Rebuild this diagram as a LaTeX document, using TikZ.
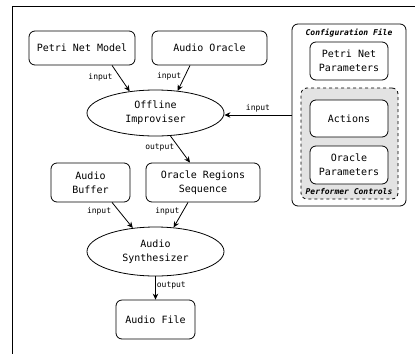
\documentclass[tikz,border=0pt]{standalone}
\usepackage{fontspec}
\setmonofont{DejaVu Sans Mono}
\usetikzlibrary{shapes.geometric,arrows.meta,calc}
\begin{document}
\begin{tikzpicture}[x=1pt,y=-1pt,
  box/.style={draw,line width=0.8pt,rounded corners=6pt,align=center,inner sep=0pt,
    font=\ttfamily\fontsize{10}{14}\selectfont},
  ell/.style={draw,line width=0.8pt,ellipse,inner sep=0pt,align=center,
    font=\ttfamily\fontsize{10}{14}\selectfont},
  conn/.style={line width=0.8pt,-{Stealth[length=6pt,width=5.5pt]}},
  lbl/.style={font=\ttfamily\fontsize{8}{9}\selectfont,inner sep=1pt},
  ttl/.style={font=\ttfamily\bfseries\itshape\fontsize{8}{9}\selectfont,inner sep=0pt}]
\useasboundingbox (0,0) rectangle (415,354);
\draw[line width=0.8pt] (415,6) -- (12,6) -- (12,354);

% configuration file group
\node[box,minimum width=114pt,minimum height=182pt] (cfg) at (349,115) {};
\node[ttl] (cfgt) at (349,33) {Configuration File};
\node[box,minimum width=78pt,minimum height=38pt] (pnp) at (349,61) {Petri Net\\Parameters};
\node[draw,line width=0.8pt,dashed,rounded corners=6pt,fill=black!11,
  minimum width=97pt,minimum height=111pt,inner sep=0pt] (perf) at (349.5,143.5) {};
\node[box,fill=white,minimum width=78pt,minimum height=37pt] (act) at (349,118.5) {Actions};
\node[box,fill=white,minimum width=78pt,minimum height=38pt] (orp) at (349,165) {Oracle\\Parameters};
\node[ttl] (perft) at (349,192) {Performer Controls};

% main flow
\node[box,minimum width=106pt,minimum height=34pt] (pnm) at (82,48) {Petri Net Model};
\node[box,minimum width=115pt,minimum height=34pt] (ao) at (209.5,48) {Audio Oracle};
\node[ell,minimum width=137pt,minimum height=46pt] (imp) at (155.5,113) {Offline\\Improviser};
\node[box,minimum width=79pt,minimum height=39pt] (ab) at (90.5,182.5) {Audio\\Buffer};
\node[box,minimum width=114pt,minimum height=39pt] (ors) at (203,182.5) {Oracle Regions\\Sequence};
\node[ell,minimum width=137pt,minimum height=49pt] (syn) at (155.5,251.5) {Audio\\Synthesizer};
\node[box,minimum width=79pt,minimum height=39pt] (af) at (155.5,319.5) {Audio File};

% connectors
\draw[conn] ($(pnm.south)+(30,0)$) -- (imp.140) node[lbl,pos=0.45,anchor=east,xshift=-6pt] {input};
\draw[conn] ($(ao.south)+(-19.5,0)$) -- (imp.45) node[lbl,pos=0.44,anchor=east,xshift=-2pt] {input};
\draw[conn] (imp.-57) -- ($(ors.north)+(-13,0)$) node[lbl,pos=0.42,anchor=east,xshift=-3pt] {output};
\draw[conn] ($(ab.south)+(21.5,0)$) -- (syn.134) node[lbl,pos=0.36,anchor=east,xshift=-7pt] {input};
\draw[conn] ($(ors.south)+(-15,0)$) -- (syn.53.6) node[lbl,pos=0.36,anchor=east,xshift=-2pt] {input};
\draw[conn] (syn.south) -- (af.north) node[lbl,pos=0.4,anchor=west] {output};
\draw[conn] (cfg.west) -- (cfg.west -| imp.east) node[lbl,pos=0.5,anchor=south,yshift=1pt] {input};
\end{tikzpicture}
\end{document}
